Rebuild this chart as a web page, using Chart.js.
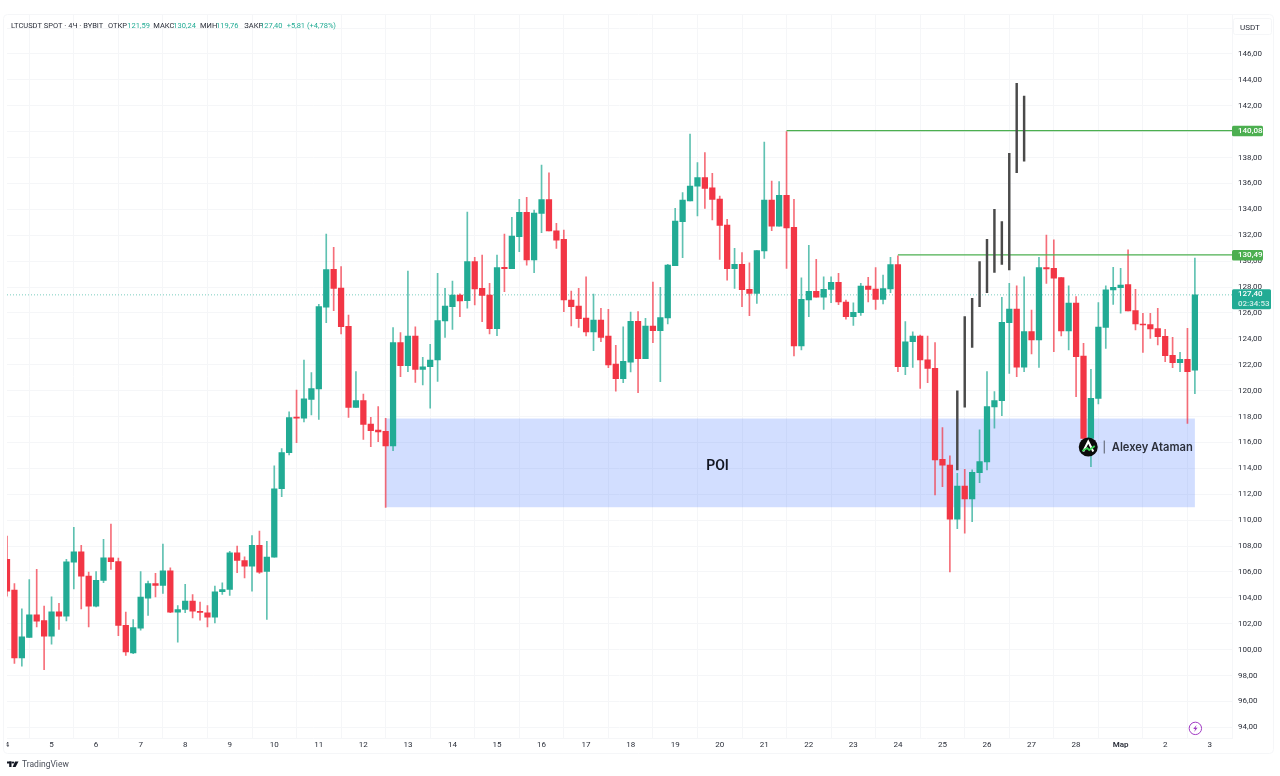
<!DOCTYPE html>
<html>
<head>
<meta charset="utf-8">
<title>LTCUSDT</title>
<script src="https://cdn.jsdelivr.net/npm/chart.js@4"></script>
<style>
  html, body { margin: 0; padding: 0; background: #fff; }
  canvas { display: block; }
</style>
</head>
<body>
<canvas id="grafico" width="1280" height="776"></canvas>
<script>
// Velas de 4 horas
var opens = [106.97,104.60,99.37,100.94,102.69,102.25,101.04,102.92,102.59,106.76,107.56,105.68,103.36,105.35,107.10,106.81,101.89,99.75,101.66,103.98,
  105.11,104.96,106.09,102.90,103.10,103.75,102.97,102.85,102.51,104.47,104.65,107.48,106.89,106.45,108.05,106.04,107.15,112.43,115.22,117.92,
  117.87,119.33,120.13,126.44,129.37,127.93,124.97,118.71,119.23,117.43,116.96,116.86,115.73,123.71,121.93,124.22,121.65,121.85,122.37,125.38,
  126.49,127.39,126.95,129.96,127.90,127.39,124.79,129.52,129.42,131.89,133.77,130.09,133.69,134.75,132.35,131.69,127.00,126.54,125.61,124.53,
  125.46,124.22,122.06,120.93,122.21,125.35,122.47,124.99,124.63,125.61,129.65,133.05,134.65,135.80,136.45,135.67,134.80,132.79,129.42,129.75,
  127.82,127.52,130.79,134.72,132.71,135.08,132.61,123.45,127.00,127.67,127.23,127.82,128.36,126.85,125.71,126.02,128.08,127.85,127.05,127.85,
  129.73,121.85,123.78,124.22,122.39,121.73,114.70,114.26,110.07,112.64,111.64,113.67,114.50,118.74,119.23,125.26,126.31,121.81,124.56,123.92,
  129.50,129.45,128.73,124.61,126.77,122.68,116.32,119.41,124.89,127.78,127.96,128.19,126.18,125.15,125.10,124.79,124.20,122.73,122.17,122.42,
  121.59];
var highs = [108.77,105.11,103.15,105.42,106.20,103.36,104.08,103.57,106.97,109.44,108.05,105.99,106.04,108.52,109.70,107.07,102.90,102.33,106.04,105.29,
  105.89,108.15,106.32,103.40,105.04,104.26,103.67,103.41,104.91,105.16,107.60,108.00,107.17,108.82,109.16,108.36,114.19,115.53,118.36,120.05,
  122.37,121.39,126.67,132.10,131.07,129.58,125.84,121.47,119.74,117.94,118.77,117.86,124.87,124.48,129.24,124.94,122.58,123.58,129.06,127.90,
  128.47,127.47,133.80,130.30,130.48,128.29,130.48,132.10,133.38,134.77,134.93,133.95,137.43,136.83,132.92,132.41,127.70,127.90,128.80,127.46,
  126.36,126.28,123.50,124.94,126.07,126.10,125.58,128.39,127.98,129.75,134.08,135.29,139.82,137.61,138.38,136.78,135.03,133.23,130.99,130.66,
  129.88,130.81,139.20,136.19,136.14,140.00,134.77,128.72,131.22,130.14,128.80,128.80,129.06,127.00,126.79,128.29,128.75,129.50,128.93,130.30,
  130.42,125.33,124.55,124.30,124.22,123.71,117.15,114.96,113.62,113.93,113.88,116.97,121.47,119.93,127.21,128.29,128.09,128.80,126.23,130.30,
  132.02,131.64,128.73,128.09,127.26,123.66,121.65,126.80,128.09,129.53,129.45,130.87,127.83,125.98,125.98,126.36,124.74,124.12,122.96,124.82,
  130.24];
var lows = [104.13,98.93,98.72,100.94,101.76,98.46,100.42,101.56,102.23,104.70,103.15,101.76,103.31,105.17,106.20,101.09,99.55,99.70,101.50,102.64,
  104.08,104.34,102.85,100.58,102.85,102.46,102.28,101.76,102.07,104.26,104.19,105.94,105.55,104.52,105.89,102.33,107.15,111.81,115.04,115.99,
  117.58,118.12,117.79,125.25,126.18,124.38,117.94,118.71,116.24,115.68,116.06,110.99,115.37,121.08,121.47,120.64,120.44,118.64,120.72,124.12,
  124.74,125.72,126.38,126.62,125.33,124.38,124.25,127.65,129.42,130.73,129.70,129.11,132.20,132.33,130.99,126.10,125.00,124.89,124.22,123.09,
  123.78,121.78,119.97,120.62,121.44,119.84,122.47,123.71,120.69,125.15,129.65,130.27,134.65,133.49,134.08,133.18,130.14,128.54,127.90,126.49,
  125.79,126.74,130.22,132.35,132.71,129.45,122.68,123.14,125.71,127.23,126.28,126.79,126.64,125.53,125.04,125.82,126.85,126.28,126.69,127.57,
  121.47,121.24,121.80,120.18,120.62,111.95,112.59,106.00,109.35,108.99,109.89,112.90,113.88,117.10,118.07,121.34,121.09,121.47,122.84,121.80,
  128.29,123.01,124.22,123.14,119.54,116.00,114.13,118.97,123.27,126.67,125.98,126.16,124.69,122.96,124.04,123.53,122.24,121.78,121.47,117.48,
  119.76];
var closes = [104.52,99.37,100.99,102.69,102.20,101.04,102.92,102.59,106.79,107.56,105.68,103.36,105.35,107.10,106.79,101.87,99.83,101.71,104.06,105.11,
  104.96,106.09,102.90,103.10,103.75,102.97,102.87,102.51,104.47,104.65,107.48,106.89,106.45,108.05,105.99,107.15,112.43,115.22,117.92,117.88,
  119.38,120.16,126.49,129.35,127.90,124.94,118.71,119.23,117.40,116.91,116.81,115.73,123.71,121.93,124.22,121.65,121.85,122.37,125.41,126.54,
  127.39,126.93,129.96,127.85,127.36,124.79,129.50,129.42,131.94,133.77,130.09,133.72,134.75,132.33,131.63,127.00,126.49,125.56,124.53,125.46,
  124.12,121.98,120.93,122.26,125.35,122.47,124.99,124.63,125.64,129.70,133.10,134.72,135.80,136.45,135.62,134.77,132.77,129.42,129.75,127.80,
  127.52,130.81,134.72,132.71,135.08,132.56,123.45,127.05,127.67,127.23,127.82,128.36,126.85,125.71,126.05,128.08,127.82,127.05,127.88,129.73,
  121.85,123.78,124.22,122.37,121.72,114.65,114.24,110.07,112.64,111.64,113.70,114.52,118.77,119.23,125.28,126.31,121.81,124.56,123.92,129.50,
  129.40,128.68,124.61,126.77,122.63,116.32,119.41,124.92,127.78,127.98,128.16,126.16,125.15,125.07,124.77,124.17,122.71,122.17,122.42,121.47,
  127.40];

// Proyeccion negra dibujada sobre las velas
var proyInicio = 128;
var proyBajos = [113.88,118.72,123.35,126.49,127.57,129.14,129.75,129.32,136.83,137.73];
var proyAltos = [119.98,125.72,127.13,129.96,131.68,134.00,133.05,138.33,143.73,142.75];

// Eje de tiempo y de precios
var diasEje = ["4","5","6","7","8","9","10","11","12","13","14","15","16","17","18","19","20","21","22","23","24","25","26","27","28","Мар","2","3"];
var ticksPrecio = [94,96,98,100,102,104,106,108,110,112,114,116,118,120,122,124,126,128,130,132,134,136,138,140,142,144,146,148];
var ultimoTickConTexto = 146;

// Niveles horizontales y zona POI
var nivelAlto = 140.08, nivelAltoDesde = 105;
var nivelMedio = 130.49, nivelMedioDesde = 120;
var precioActual = 127.40;
var poiDesde = 51, poiHasta = 160, poiArriba = 117.85, poiAbajo = 111.0;

var VELAS_POR_DIA = 6;
var TOTAL_POSICIONES = 166;

var VERDE = "#22ab94";
var ROJO = "#f23645";
var VERDE_MECHA = "rgba(34,171,148,0.72)";
var ROJO_MECHA = "rgba(242,54,69,0.72)";
var GRILLA = "#f5f6f8";
var FUENTE = "Roboto, sans-serif";

// Etiquetas del eje x: solo la primera vela de cada dia lleva texto
var etiquetas = [];
for (var k = 0; k < TOTAL_POSICIONES; k++) {
  etiquetas.push(k % VELAS_POR_DIA === 0 && diasEje[k / VELAS_POR_DIA] ? diasEje[k / VELAS_POR_DIA] : "");
}

var mechas = [], cuerpos = [], colores = [], coloresMecha = [];
for (var i = 0; i < opens.length; i++) {
  mechas.push([lows[i], highs[i]]);
  cuerpos.push([opens[i], closes[i]]);
  colores.push(closes[i] >= opens[i] ? VERDE : ROJO);
  coloresMecha.push(closes[i] >= opens[i] ? VERDE_MECHA : ROJO_MECHA);
}

var proyeccion = etiquetas.map(function (_, k) {
  var j = k - proyInicio;
  return j >= 0 && j < proyAltos.length ? [proyBajos[j], proyAltos[j]] : null;
});

function lineaDesde(nivel, desde) {
  return etiquetas.map(function (_, k) {
    return k >= desde ? nivel : null;
  });
}

function precioTexto(v) {
  return v.toFixed(2).replace(".", ",");
}

function etiquetaPrecio(ctx, x, y, ancho, alto, color, textos) {
  ctx.fillStyle = color;
  ctx.beginPath();
  ctx.roundRect(x, y, ancho, alto, 1.5);
  ctx.fill();
  ctx.font = "500 8px " + FUENTE;
  ctx.textAlign = "left";
  ctx.textBaseline = "middle";
  textos.forEach(function (t, n) {
    ctx.fillStyle = n === 0 ? "#ffffff" : "rgba(255,255,255,0.8)";
    ctx.fillText(t, 1238, y + (alto / textos.length) * (n + 0.5));
  });
}

// Zona POI por debajo de las velas
var pluginZona = {
  id: "zona",
  beforeDraw: function (chart) {
    var ctx = chart.ctx;
    // marco muy claro del panel
    ctx.strokeStyle = GRILLA;
    ctx.lineWidth = 1;
    ctx.beginPath();
    ctx.roundRect(3.5, 14.5, 1270, 739, 4);
    ctx.stroke();
    // recorte del borde izquierdo, como en el original
    ctx.save();
    ctx.beginPath();
    ctx.rect(6.5, 0, 1280, 776);
    ctx.clip();
  },
  beforeDatasetsDraw: function (chart) {
    var ctx = chart.ctx, sx = chart.scales.x, sy = chart.scales.y;
    var x0 = sx.getPixelForValue(poiDesde), x1 = sx.getPixelForValue(poiHasta);
    var y0 = sy.getPixelForValue(poiArriba), y1 = sy.getPixelForValue(poiAbajo);
    ctx.fillStyle = "rgba(41,98,255,0.21)";
    ctx.fillRect(x0, y0, x1 - x0, y1 - y0);
  },
  afterDraw: function (chart) {
    var ctx = chart.ctx, sx = chart.scales.x, sy = chart.scales.y;
    ctx.restore();
    ctx.save();

    // cabecera
    var oscuro = "#2a2e39";
    var cabecera = [
      ["LTCUSDT SPOT · 4Ч · BYBIT", 11, oscuro],
      ["ОТКР", 108, oscuro], ["121,59", 127.3, VERDE],
      ["МАКС", 153.3, oscuro], ["130,24", 173.3, VERDE],
      ["МИН", 200, oscuro], ["119,76", 216, VERDE],
      ["ЗАКР", 244.3, oscuro], ["127,40", 260, VERDE],
      ["+5,81 (+4,78%)", 286.7, VERDE]
    ];
    ctx.font = "7.5px " + FUENTE;
    ctx.textAlign = "left";
    ctx.textBaseline = "middle";
    cabecera.forEach(function (c) {
      ctx.fillStyle = c[2];
      ctx.fillText(c[0], c[1], 26);
    });

    // caja de la moneda
    ctx.strokeStyle = GRILLA;
    ctx.lineWidth = 1;
    ctx.fillStyle = "#ffffff";
    ctx.beginPath();
    ctx.roundRect(1233.5, 18.5, 38, 16, 2);
    ctx.fill();
    ctx.stroke();
    ctx.fillStyle = oscuro;
    ctx.font = "8px " + FUENTE;
    ctx.fillText("USDT", 1240, 28);

    // etiquetas de precio
    etiquetaPrecio(ctx, 1232, sy.getPixelForValue(nivelAlto) - 4.9, 31, 10.6, "#4caf50", [precioTexto(nivelAlto)]);
    etiquetaPrecio(ctx, 1232, sy.getPixelForValue(nivelMedio) - 4.9, 31, 10.6, "#4caf50", [precioTexto(nivelMedio)]);
    etiquetaPrecio(ctx, 1232, sy.getPixelForValue(precioActual) - 5.5, 39, 20, VERDE, [precioTexto(precioActual), "02:34:53"]);

    // texto POI
    ctx.fillStyle = "#131722";
    ctx.font = "600 14px " + FUENTE;
    ctx.textAlign = "center";
    ctx.fillText("POI", 717.5, sy.getPixelForValue(114.11));

    // marca de agua del autor
    var cx = sx.getPixelForValue(146) - 2.7, cy = sy.getPixelForValue(115.65);
    ctx.fillStyle = "#0b0b0b";
    ctx.beginPath();
    ctx.arc(cx, cy, 9.5, 0, Math.PI * 2);
    ctx.fill();
    ctx.strokeStyle = "#ffffff";
    ctx.lineWidth = 2;
    ctx.beginPath();
    ctx.moveTo(cx - 5, cy + 4.5);
    ctx.lineTo(cx, cy - 5.5);
    ctx.lineTo(cx + 5, cy + 4.5);
    ctx.stroke();
    ctx.strokeStyle = "#39d353";
    ctx.lineWidth = 1.8;
    ctx.beginPath();
    ctx.moveTo(cx - 6, cy + 4);
    ctx.lineTo(cx - 1, cy + 1);
    ctx.lineTo(cx + 1, cy + 3);
    ctx.lineTo(cx + 6.5, cy - 1);
    ctx.stroke();
    ctx.fillStyle = "#555b66";
    ctx.fillRect(cx + 15.5, cy - 6.5, 1, 13);
    ctx.fillStyle = "#2b2f3a";
    ctx.font = "600 11.2px 'Inter', sans-serif";
    ctx.textAlign = "left";
    ctx.fillText("Alexey Ataman", cx + 23.5, cy + 0.5);

    // icono del rayo
    var rx = sx.getPixelForValue(160) + 0.5, ry = sy.getPixelForValue(94) + 1;
    ctx.strokeStyle = "#a23cc4";
    ctx.lineWidth = 1;
    ctx.beginPath();
    ctx.arc(rx, ry, 6.2, 0, Math.PI * 2);
    ctx.stroke();
    ctx.fillStyle = "#a23cc4";
    ctx.beginPath();
    ctx.moveTo(rx + 1.2, ry - 3.5);
    ctx.lineTo(rx - 2.2, ry + 0.6);
    ctx.lineTo(rx - 0.2, ry + 0.6);
    ctx.lineTo(rx - 1.2, ry + 3.5);
    ctx.lineTo(rx + 2.2, ry - 0.6);
    ctx.lineTo(rx + 0.2, ry - 0.6);
    ctx.closePath();
    ctx.fill();

    // logo de TradingView
    ctx.fillStyle = "#131722";
    ctx.fillRect(7, 761.5, 4.5, 2);
    ctx.fillRect(9.2, 761.5, 2.3, 5.5);
    ctx.beginPath();
    ctx.arc(13, 762.6, 1.1, 0, Math.PI * 2);
    ctx.fill();
    ctx.beginPath();
    ctx.moveTo(15, 761.5);
    ctx.lineTo(18.5, 761.5);
    ctx.lineTo(15.6, 767);
    ctx.lineTo(12.6, 767);
    ctx.closePath();
    ctx.fill();
    ctx.fillStyle = "#4a4e59";
    ctx.font = "8.5px " + FUENTE;
    ctx.fillText("TradingView", 22, 765);
    ctx.restore();
  }
};

var ctx = document.getElementById("grafico").getContext("2d");

var grafico = new Chart(ctx, {
  data: {
    labels: etiquetas,
    datasets: [
      {
        type: "bar",
        data: proyeccion,
        backgroundColor: "#4a4a4a",
        barThickness: 1.8,
        order: 0,
      },
      {
        type: "bar",
        data: cuerpos,
        backgroundColor: colores,
        barThickness: 5.6,
        minBarLength: 1,
        order: 2,
      },
      {
        type: "bar",
        data: mechas,
        backgroundColor: coloresMecha,
        barThickness: 1,
        order: 3,
      },
      {
        type: "line",
        data: lineaDesde(nivelAlto, nivelAltoDesde),
        borderColor: "#4caf50",
        borderWidth: 1.2,
        pointRadius: 0,
        order: 1,
      },
      {
        type: "line",
        data: lineaDesde(nivelMedio, nivelMedioDesde),
        borderColor: "#4caf50",
        borderWidth: 1.2,
        pointRadius: 0,
        order: 1,
      },
      {
        type: "line",
        data: lineaDesde(precioActual, 0),
        borderColor: "rgba(34,171,148,0.6)",
        borderWidth: 1,
        borderDash: [1, 2],
        pointRadius: 0,
        order: 4,
      },
    ],
  },
  options: {
    responsive: false,
    animation: false,
    events: [],
    layout: { padding: { left: 7, top: 15 } },
    datasets: { bar: { grouped: false, borderWidth: 0, borderSkipped: false } },
    plugins: { legend: { display: false }, tooltip: { enabled: false } },
    scales: {
      x: {
        type: "category",
        offset: false,
        grid: { color: GRILLA, lineWidth: 1, drawTicks: false },
        border: { display: true, color: GRILLA },
        afterFit: function (s) {
          s.height = 38;
          s.paddingLeft = 0;
          s.paddingRight = 0;
        },
        afterBuildTicks: function (s) {
          s.ticks = s.ticks.filter(function (t) { return etiquetas[t.value] !== ""; });
        },
        ticks: {
          autoSkip: false,
          maxRotation: 0,
          padding: 2,
          color: "#2a2e39",
          font: function (c) {
            return { family: FUENTE, size: 8, weight: c.tick && c.tick.label === "Мар" ? "600" : "400" };
          },
        },
      },
      y: {
        type: "linear",
        position: "right",
        min: 93.18,
        max: 149.01,
        grid: { color: GRILLA, lineWidth: 1, drawTicks: false },
        border: { display: true, color: GRILLA },
        afterFit: function (s) {
          s.width = 48;
          s.paddingTop = 0;
          s.paddingBottom = 0;
        },
        afterBuildTicks: function (s) {
          s.ticks = ticksPrecio.map(function (v) { return { value: v }; });
        },
        ticks: {
          padding: 6,
          color: "#2a2e39",
          font: { family: FUENTE, size: 8 },
          callback: function (v) { return v > ultimoTickConTexto ? "" : precioTexto(v); },
        },
      },
    },
  },
  plugins: [pluginZona],
});
</script>
</body>
</html>
